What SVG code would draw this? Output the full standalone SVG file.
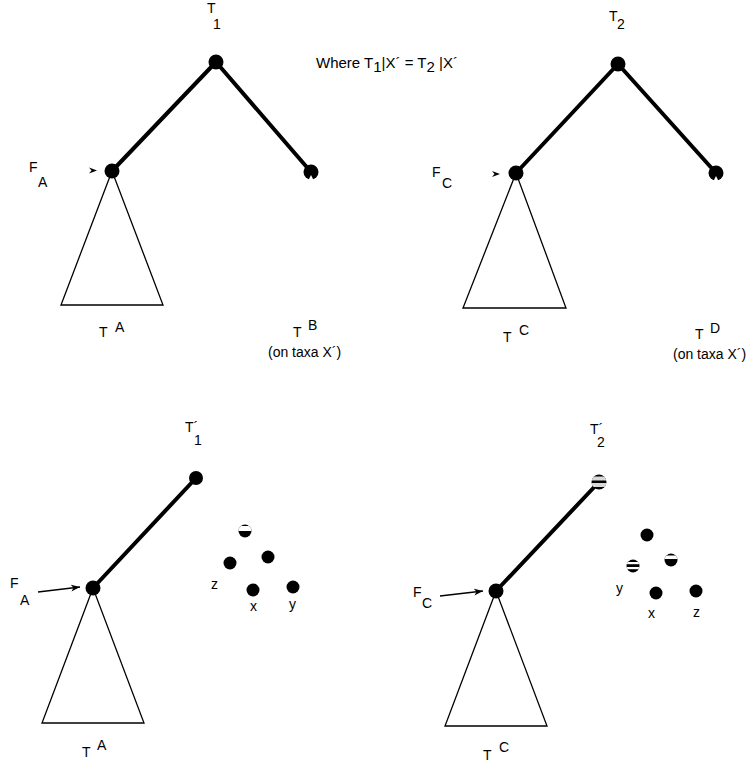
<svg xmlns="http://www.w3.org/2000/svg" width="756" height="767" viewBox="0 0 756 767">
<style>
text{font-family:"Liberation Sans",Arial,sans-serif;font-size:14px;fill:#000}
.wh{font-size:15px}
.edge{stroke:#000;stroke-width:4;fill:none;stroke-linecap:round}
.tri{stroke:#000;stroke-width:1.3;fill:#fff}
.arr{stroke:#000;stroke-width:1.3;fill:none}
.dot{fill:#000}
.cut{fill:#fff}
</style>
<defs>
<marker id="ah" markerWidth="10" markerHeight="8" refX="9" refY="4" orient="auto" markerUnits="userSpaceOnUse">
<path d="M0,0.5 L9,4 L0,7.5 L2.5,4 Z" fill="#000"/>
</marker>
<clipPath id="cT2"><circle cx="599" cy="482" r="7.5"/></clipPath>
<clipPath id="cL"><circle cx="245" cy="531" r="6.5"/></clipPath>
<clipPath id="cR1"><circle cx="633" cy="566" r="6.5"/></clipPath>
<clipPath id="cR2"><circle cx="671" cy="560" r="6.5"/></clipPath>
</defs>

<g id="connectors">
<line class="edge" x1="216" y1="62" x2="112" y2="171"/>
<line class="edge" x1="216" y1="62" x2="311" y2="172"/>
<line class="edge" x1="618" y1="64" x2="516" y2="173"/>
<line class="edge" x1="618" y1="64" x2="716" y2="173"/>
<line class="edge" x1="93" y1="588" x2="196" y2="478"/>
<line class="edge" x1="496" y1="591" x2="599" y2="482"/>
<path d="M89,167.5 L97,170.5 L89,173.5 L91.5,170.5 Z" fill="#000"/>
<path d="M492,171 L500,174 L492,177 L494.5,174 Z" fill="#000"/>
<line class="arr" x1="38" y1="592" x2="80" y2="587" marker-end="url(#ah)"/>
<line class="arr" x1="440" y1="596" x2="483" y2="591" marker-end="url(#ah)"/>
</g>

<g id="triangleA-top"><polygon class="tri" points="112,171 61,305 163,305"/></g>
<g id="triangleC-top"><polygon class="tri" points="516,173 463,308 566,308"/></g>
<g id="triangleA-bottom"><polygon class="tri" points="93,588 42,723 144,723"/></g>
<g id="triangleC-bottom"><polygon class="tri" points="496,591 445,726 547,726"/></g>

<g id="root1"><circle class="dot" cx="216" cy="62" r="7.5"/></g>
<g id="FA-top"><circle class="dot" cx="112" cy="171" r="7.5"/></g>
<g id="TB-node"><circle class="dot" cx="311" cy="172" r="7.5"/><path class="cut" d="M308.5,180 L311,175 L313.5,180 Z"/></g>
<g id="root2"><circle class="dot" cx="618" cy="64" r="7.5"/></g>
<g id="FC-top"><circle class="dot" cx="516" cy="173" r="7.5"/></g>
<g id="TD-node"><circle class="dot" cx="716" cy="173" r="7.5"/><path class="cut" d="M713.5,181 L716,176 L718.5,181 Z"/></g>

<g id="T1p-node"><circle class="dot" cx="196" cy="478" r="7"/></g>
<g id="FA-bottom"><circle class="dot" cx="93" cy="588" r="7.5"/></g>
<g id="T2p-node"><circle class="dot" cx="599" cy="482" r="7.5"/>
<g clip-path="url(#cT2)"><rect class="cut" x="590" y="476.5" width="18" height="4" fill-opacity="0.85"/><rect class="cut" x="590" y="483" width="18" height="4" fill-opacity="0.85"/></g></g>
<g id="FC-bottom"><circle class="dot" cx="496" cy="591" r="7.5"/></g>

<g id="dots-left">
<circle class="dot" cx="245" cy="531" r="6.5"/>
<rect class="cut" x="237" y="526" width="16" height="5" clip-path="url(#cL)"/>
<circle class="dot" cx="230" cy="563" r="6.5"/>
<circle class="dot" cx="268" cy="557" r="6.5"/>
<circle class="dot" cx="253" cy="590" r="6.5"/>
<circle class="dot" cx="293" cy="587" r="6.5"/>
</g>
<g id="dots-right">
<circle class="dot" cx="647" cy="535" r="6.5"/>
<circle class="dot" cx="633" cy="566" r="6.5"/>
<g clip-path="url(#cR1)"><rect class="cut" x="625" y="562" width="16" height="2.2"/><rect class="cut" x="625" y="567" width="16" height="2.2"/></g>
<circle class="dot" cx="671" cy="560" r="6.5"/>
<rect class="cut" x="663" y="555.5" width="16" height="3.5" clip-path="url(#cR2)"/>
<circle class="dot" cx="656" cy="593" r="6.5"/>
<circle class="dot" cx="696" cy="591" r="6.5"/>
</g>

<g id="labels">
<text x="207" y="13">T</text><text x="213" y="29">1</text>
<text x="609" y="21">T</text><text x="617" y="29">2</text>
<text class="wh" x="316" y="68">Where T<tspan dy="4">1</tspan><tspan dy="-4">|X´ = T</tspan><tspan dy="4">2</tspan><tspan dy="-4"> |X´</tspan></text>
<text x="29" y="172">F</text><text x="38" y="187">A</text>
<text x="432" y="177">F</text><text x="442" y="188">C</text>
<text x="99" y="337">T</text><text x="115" y="332">A</text>
<text x="293" y="337">T</text><text x="308" y="330">B</text>
<text x="268" y="357">(on taxa X´)</text>
<text x="503" y="342">T</text><text x="519" y="335">C</text>
<text x="695" y="339">T</text><text x="710" y="333">D</text>
<text x="673" y="359">(on taxa X´)</text>
<text x="185" y="432">T´</text><text x="194" y="445">1</text>
<text x="590" y="434">T´</text><text x="597" y="447">2</text>
<text x="10" y="588">F</text><text x="20" y="605">A</text>
<text x="413" y="597">F</text><text x="422" y="608">C</text>
<text x="82" y="757">T</text><text x="97" y="750">A</text>
<text x="483" y="760">T</text><text x="499" y="752">C</text>
<text x="211" y="589">z</text><text x="250" y="611">x</text><text x="289" y="609">y</text>
<text x="616" y="593">y</text><text x="648" y="618">x</text><text x="693" y="617">z</text>
</g>
</svg>
